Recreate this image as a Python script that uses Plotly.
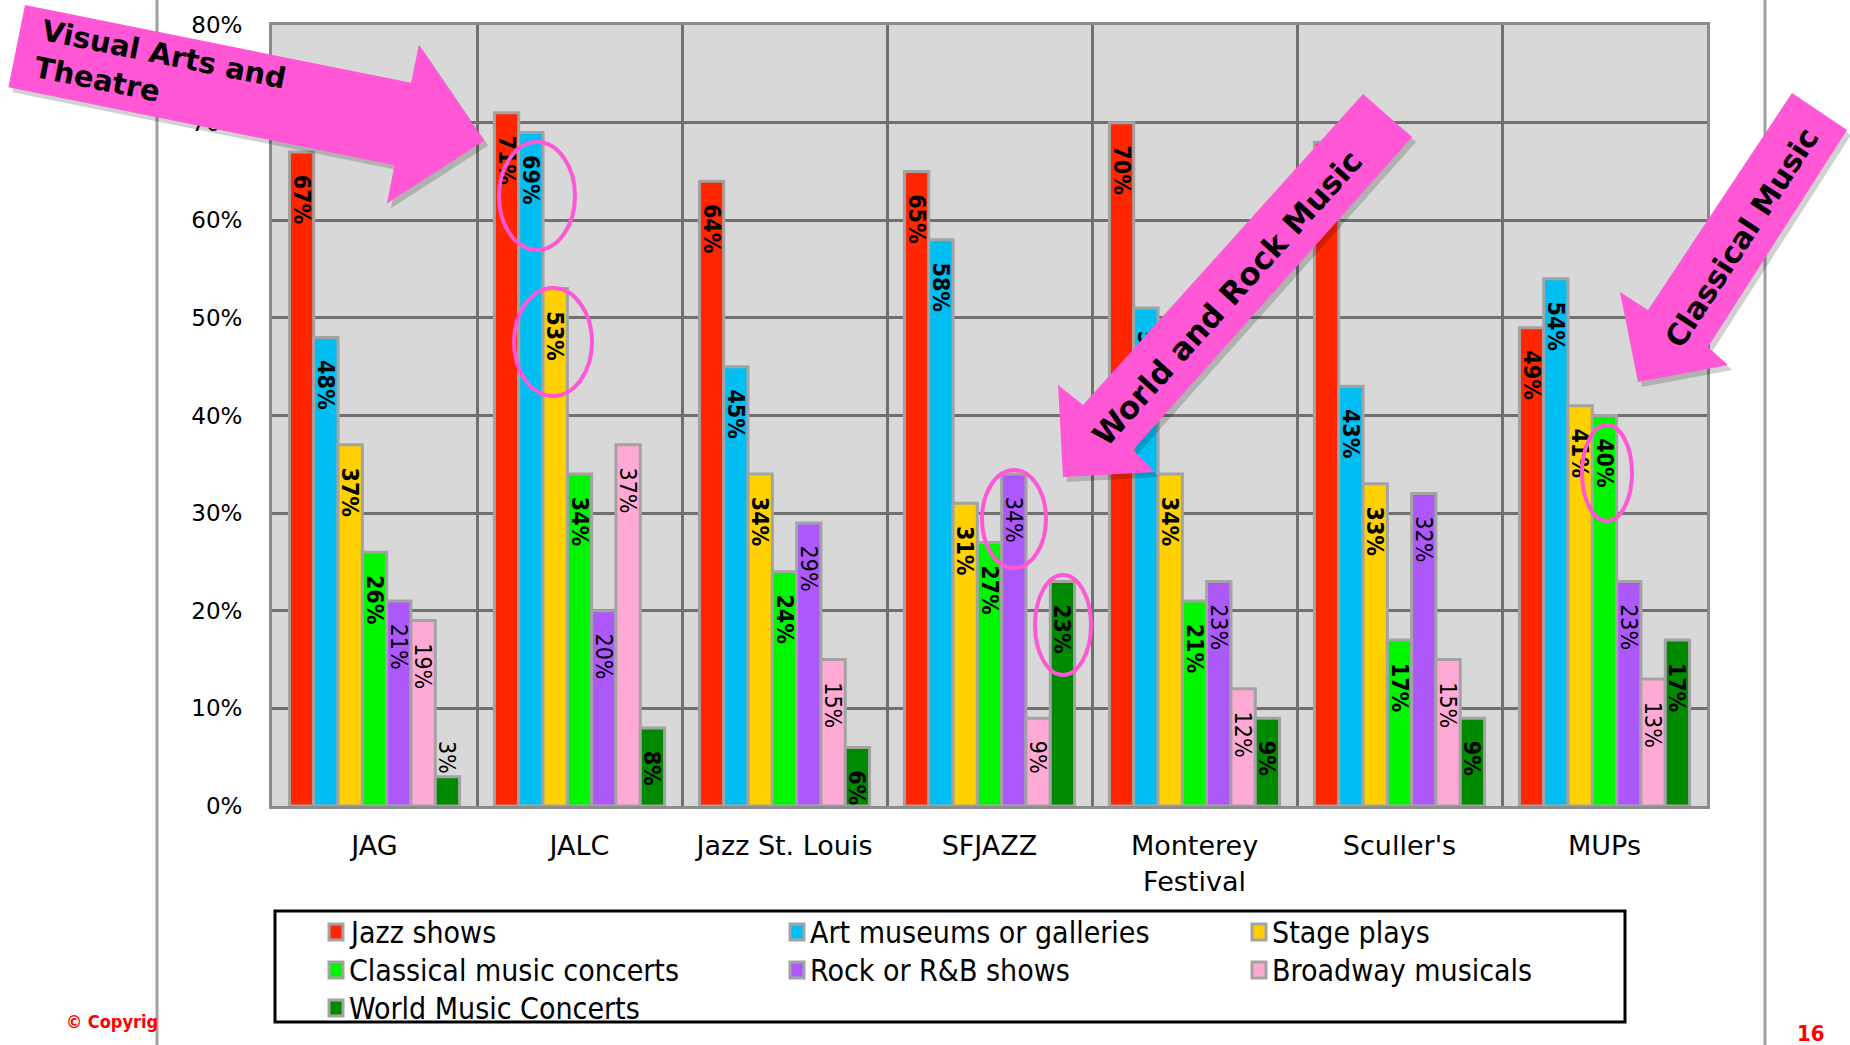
import plotly.graph_objects as go

# ---------------- data ----------------
categories = ["JAG", "JALC", "Jazz St. Louis", "SFJAZZ", "Monterey<br>Festival", "Sculler's", "MUPs"]
series_names = ["Jazz shows", "Art museums or galleries", "Stage plays",
                "Classical music concerts", "Rock or R&B shows", "Broadway musicals",
                "World Music Concerts"]
jazz_shows = [0.67, 0.71, 0.64, 0.65, 0.70, 0.68, 0.49]
art_museums = [0.48, 0.69, 0.45, 0.58, 0.51, 0.43, 0.54]
stage_plays = [0.37, 0.53, 0.34, 0.31, 0.34, 0.33, 0.41]
classical_music = [0.26, 0.34, 0.24, 0.27, 0.21, 0.17, 0.40]
rock_rnb = [0.21, 0.20, 0.29, 0.34, 0.23, 0.32, 0.23]
broadway = [0.19, 0.37, 0.15, 0.09, 0.12, 0.15, 0.13]
world_music = [0.03, 0.08, 0.06, 0.23, 0.09, 0.09, 0.17]
y_tick_values = [0, 0.1, 0.2, 0.3, 0.4, 0.5, 0.6, 0.7, 0.8]

series_values = [jazz_shows, art_museums, stage_plays, classical_music,
                 rock_rnb, broadway, world_music]
colors = ["#FF2600", "#00BEF2", "#FFD100", "#00F500", "#AC58FA", "#FFAAD5", "#008A00"]
bold = [True, True, True, True, False, False, True]

# ---------------- geometry ----------------
W, H = 1850, 1045
L, R, T, B = 272, 143, 25, 239
PW, PH = W - L - R, H - T - B


def px(x):
    return (x - L) / PW


def py(y):
    return (H - B - y) / PH


def path(points):
    return "M " + " L ".join(f"{px(x):.5f},{py(y):.5f}" for x, y in points) + " Z"


fig = go.Figure()

label_font = "Liberation Sans Narrow, DejaVu Sans Condensed, Arial Narrow, sans-serif"
pad = "\u00a0\u00a0\u00a0"
for name, vals, col, b in zip(series_names, series_values, colors, bold):
    labels, positions = [], []
    for v in vals:
        s = f"{v * 100:.0f}%"
        if b and v >= 0.05:
            s = f"<b>{s}</b>"
        labels.append((pad if v >= 0.05 else "") + s)
        positions.append("inside" if v >= 0.05 else "outside")
    fig.add_trace(go.Bar(
        name=name, x=categories, y=vals, text=labels, texttemplate="%{text}",
        marker=dict(color=col, line=dict(color="#A3A3A3", width=3)),
        textposition=positions, insidetextanchor="end", textangle=90,
        constraintext="none", cliponaxis=False,
        textfont=dict(family=label_font, size=23, color="black"),
        hoverinfo="skip", showlegend=False,
    ))

# ---------------- shapes ----------------
shapes = []
PINK = "#FF57D6"

# arrow 1 (Visual Arts and Theatre)
ox, oy = 25, 5
ux, uy = 0.9801, 0.1976
nx, ny = -0.1976, 0.9801
local = [(0, 0), (394, 0), (394, -39), (477, 42), (394, 123), (394, 84), (0, 84)]
arrow1 = [(ox + a * ux + b * nx, oy + a * uy + b * ny) for a, b in local]
arrow2 = [(1363, 94), (1412, 137), (1133, 450), (1155, 472), (1063, 477), (1058, 385), (1083, 405)]
arrow3 = [(1792, 93), (1847, 130), (1708, 347), (1728, 365), (1638, 382), (1620, 292), (1648, 310)]

for arr in (arrow1, arrow2, arrow3):
    shadow = [(x + 4, y + 5) for x, y in arr]
    shapes.append(dict(type="path", xref="paper", yref="paper", path=path(shadow),
                       fillcolor="rgba(0,0,0,0.18)", line=dict(width=0), layer="above"))
    shapes.append(dict(type="path", xref="paper", yref="paper", path=path(arr),
                       fillcolor=PINK, line=dict(width=0), layer="above"))

# ellipses
for cx, cy, rx, ry in [(537, 196, 38, 54), (553, 342, 39, 54), (1014, 519, 32, 49),
                       (1063, 625, 28, 50), (1607, 473, 25, 48)]:
    shapes.append(dict(type="circle", xref="paper", yref="paper",
                       x0=px(cx - rx), x1=px(cx + rx), y0=py(cy + ry), y1=py(cy - ry),
                       line=dict(color=PINK, width=4), layer="above"))

# slide frame lines
for xl in (157, 1765):
    shapes.append(dict(type="line", xref="paper", yref="paper",
                       x0=px(xl), x1=px(xl), y0=py(H), y1=py(0),
                       line=dict(color="#A0A0A0", width=3), layer="below"))

# legend box
shapes.append(dict(type="rect", xref="paper", yref="paper",
                   x0=px(275), x1=px(1625), y0=py(1022), y1=py(911),
                   line=dict(color="black", width=3), layer="above"))

# ---------------- annotations ----------------
ann_font = "DejaVu Sans, Verdana, sans-serif"
annotations = [
    dict(text="<b>Visual Arts and<br>Theatre</b>", x=px(160), y=py(73), xref="paper", yref="paper",
         showarrow=False, textangle=11.4, align="left", xanchor="center", yanchor="middle",
         font=dict(family=ann_font, size=29, color="black")),
    dict(text="<b>World and Rock Music</b>", x=px(1227), y=py(298), xref="paper", yref="paper",
         showarrow=False, textangle=-48, xanchor="center", yanchor="middle",
         font=dict(family=ann_font, size=31, color="black")),
    dict(text="<b>Classical Music</b>", x=px(1742), y=py(238), xref="paper", yref="paper",
         showarrow=False, textangle=-57, xanchor="center", yanchor="middle",
         font=dict(family=ann_font, size=30, color="black")),
    dict(text="<b>© Copyrig</b>", x=px(64), y=py(1021), xref="paper", yref="paper",
         showarrow=False, xanchor="left", yanchor="middle",
         font=dict(family="DejaVu Sans Condensed, DejaVu Sans, sans-serif", size=18, color="#FF0000")),
    dict(text="<b>16</b>", x=px(1811), y=py(1033), xref="paper", yref="paper",
         showarrow=False, xanchor="center", yanchor="middle",
         font=dict(family="DejaVu Sans Condensed, DejaVu Sans, sans-serif", size=22, color="#FF0000")),
]

# manual legend (3 columns, row-major order)
col_x = [336, 797, 1259]
row_y = [932, 970, 1008]
for i, (name, col) in enumerate(zip(series_names, colors)):
    cx = col_x[i % 3]
    cy = row_y[i // 3]
    shapes.append(dict(type="rect", xref="paper", yref="paper",
                       x0=px(cx - 7), x1=px(cx + 7), y0=py(cy + 8), y1=py(cy - 8),
                       fillcolor=col, line=dict(color="#A3A3A3", width=3), layer="above"))
    annotations.append(dict(text=name, x=px(cx + 11), y=py(cy), xref="paper", yref="paper",
                            showarrow=False, xanchor="left", yanchor="middle",
                            font=dict(family="DejaVu Sans Condensed, Liberation Sans Narrow, sans-serif",
                                      size=30, color="black")))

fig.update_layout(
    width=W, height=H,
    margin=dict(l=L, r=R, t=T, b=B, autoexpand=False),
    paper_bgcolor="white", plot_bgcolor="#D8D8D8",
    barmode="group", bargap=0.17, bargroupgap=0.0,
    shapes=shapes, annotations=annotations,
    showlegend=False,
    xaxis=dict(type="category", tickson="boundaries", showgrid=True, gridcolor="#707070",
               gridwidth=2.5, showline=True, linecolor="#8C8C8C", linewidth=3, mirror=True,
               ticks="", ticklabelstandoff=14,
               tickfont=dict(family="DejaVu Sans, Verdana, sans-serif", size=27, color="black")),
    yaxis=dict(range=[0, 0.8], tickvals=y_tick_values, tickformat=".0%", showgrid=True,
               gridcolor="#707070", gridwidth=2.5, showline=True, linecolor="#8C8C8C",
               linewidth=3, mirror=True, ticks="", ticklabelstandoff=22, zeroline=False,
               tickfont=dict(family="DejaVu Sans, Verdana, sans-serif", size=23, color="black")),
)

fig.write_html("out.html")
